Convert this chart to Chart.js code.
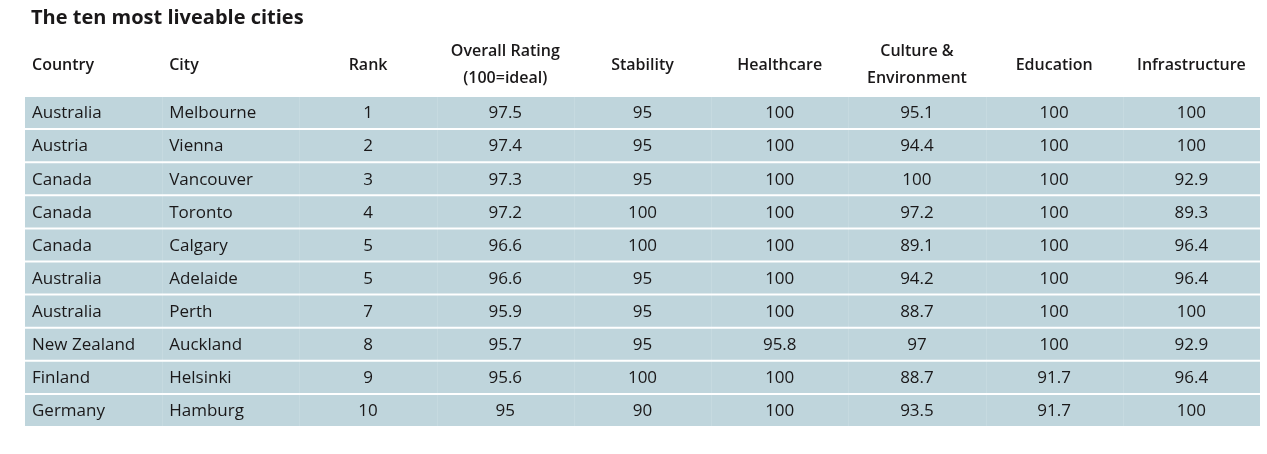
<!DOCTYPE html>
<html>
<head>
<meta charset="utf-8">
<script src="https://cdn.jsdelivr.net/npm/chart.js@4.4.1/dist/chart.umd.min.js"></script>
<style>
  html, body { margin: 0; padding: 0; background: #fff; }
  #wrap { width: 1267px; height: 454px; position: relative; }
</style>
</head>
<body>
<div id="wrap"><canvas id="cityTable"></canvas></div>
<script>
const title = 'The ten most liveable cities';
const headers = [
    ['Country'], ['City'], ['Rank'], ['Overall Rating', '(100=ideal)'], ['Stability'],
    ['Healthcare'], ['Culture &', 'Environment'], ['Education'], ['Infrastructure']
];
const countries = ['Australia', 'Austria', 'Canada', 'Canada', 'Canada', 'Australia', 'Australia', 'New Zealand', 'Finland', 'Germany'];
const cities = ['Melbourne', 'Vienna', 'Vancouver', 'Toronto', 'Calgary', 'Adelaide', 'Perth', 'Auckland', 'Helsinki', 'Hamburg'];
const ranks = [1, 2, 3, 4, 5, 5, 7, 8, 9, 10];
const overall = [97.5, 97.4, 97.3, 97.2, 96.6, 96.6, 95.9, 95.7, 95.6, 95];
const stability = [95, 95, 95, 100, 100, 95, 95, 95, 100, 90];
const healthcare = [100, 100, 100, 100, 100, 100, 100, 95.8, 100, 100];
const culture = [95.1, 94.4, 100, 97.2, 89.1, 94.2, 88.7, 97, 88.7, 93.5];
const education = [100, 100, 100, 100, 100, 100, 100, 100, 91.7, 91.7];
const infrastructure = [100, 100, 92.9, 89.3, 96.4, 96.4, 100, 92.9, 96.4, 100];

const columns = [countries, cities, ranks, overall, stability, healthcare, culture, education, infrastructure];
const textColor = '#1a1819';
const fontFamily = '"Open Sans", "Noto Sans", sans-serif';

const tablePlugin = {
    id: 'tableText',
    afterDatasetsDraw(chart) {
        const { ctx, scales: { x, y }, chartArea } = chart;
        ctx.save();

        // faint column dividers
        ctx.strokeStyle = 'rgba(255,255,255,0.12)';
        ctx.lineWidth = 1;
        for (let c = 1; c < columns.length; c++) {
            const px = Math.round(x.getPixelForValue(c)) + 0.5;
            ctx.beginPath();
            ctx.moveTo(px, chartArea.top);
            ctx.lineTo(px, chartArea.bottom);
            ctx.stroke();
        }

        // title
        ctx.fillStyle = textColor;
        ctx.textBaseline = 'middle';
        ctx.textAlign = 'left';
        ctx.font = 'bold 20px ' + fontFamily;
        ctx.fillText(title, chartArea.left + 6, 18);

        // header row
        ctx.font = '600 16px ' + fontFamily;
        headers.forEach((lines, c) => {
            const left = c < 2;
            ctx.textAlign = left ? 'left' : 'center';
            const px = left ? x.getPixelForValue(c) + 7 : x.getPixelForValue(c + 0.5);
            const yy = lines.length === 1 ? [65] : [51, 78];
            lines.forEach((s, k) => ctx.fillText(s, px, yy[k]));
        });

        // body cells
        ctx.font = '17px ' + fontFamily;
        columns.forEach((vals, c) => {
            const left = c < 2;
            ctx.textAlign = left ? 'left' : 'center';
            const px = left ? x.getPixelForValue(c) + 7 : x.getPixelForValue(c + 0.5);
            vals.forEach((v, r) => {
                ctx.fillText(String(v), px, y.getPixelForValue(r) + 1);
            });
        });
        ctx.restore();
    }
};

new Chart(document.getElementById('cityTable'), {
    type: 'bar',
    data: {
        labels: cities,
        datasets: [{
            data: cities.map(() => [0, columns.length]),
            backgroundColor: '#bfd5dc',
            borderWidth: 0,
            barPercentage: 1,
            categoryPercentage: 0.94
        }]
    },
    options: {
        indexAxis: 'y',
        responsive: true,
        maintainAspectRatio: false,
        animation: false,
        layout: { padding: { left: 25, right: 7, top: 96, bottom: 27 } },
        scales: {
            x: { type: 'linear', min: 0, max: columns.length, display: false },
            y: { display: false }
        },
        plugins: {
            legend: { display: false },
            tooltip: { enabled: false }
        }
    },
    plugins: [tablePlugin]
});
</script>
</body>
</html>
